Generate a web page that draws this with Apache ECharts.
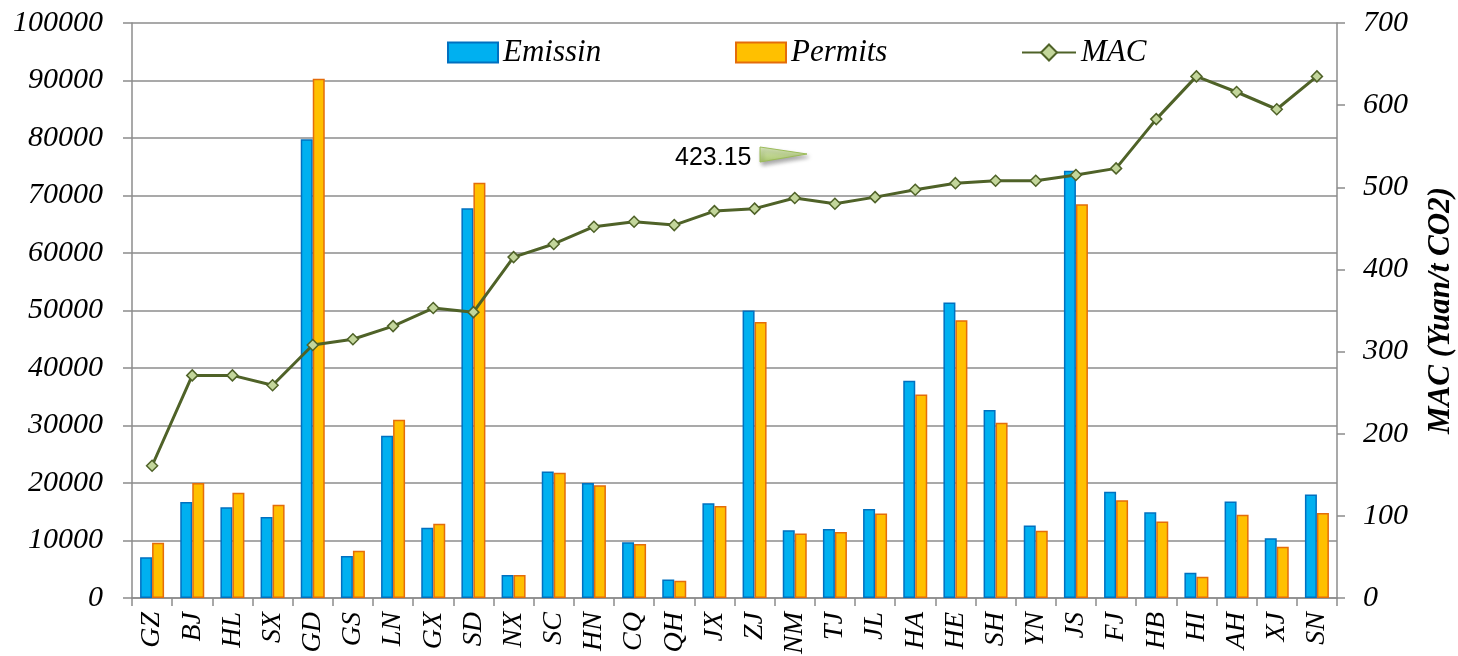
<!DOCTYPE html>
<html>
<head>
<meta charset="utf-8">
<script src="https://cdn.jsdelivr.net/npm/echarts@6/dist/echarts.min.js"></script>
<style>
  html, body { margin: 0; padding: 0; background: #fff; }
  #chart { width: 1458px; height: 656px; }
</style>
</head>
<body>
<div id="chart"></div>
<script>
// provinces
const provinces = ['GZ', 'BJ', 'HL', 'SX', 'GD', 'GS', 'LN', 'GX', 'SD', 'NX', 'SC', 'HN', 'CQ', 'QH', 'JX',
  'ZJ', 'NM', 'TJ', 'JL', 'HA', 'HE', 'SH', 'YN', 'JS', 'FJ', 'HB', 'HI', 'AH', 'XJ', 'SN']

const emission = [7100, 16700, 15800, 14100, 79800, 7300, 28200, 12200, 67800, 4000, 22000, 20000, 9700, 3200, 16500,
  50000, 11800, 12000, 15500, 37800, 51400, 32700, 12600, 74300, 18500, 14900, 4400, 16800, 10400, 18000]

const permits = [9600, 20000, 18300, 16200, 90300, 8200, 31000, 12900, 72200, 4000, 21800, 19600, 9400, 3000, 16000,
  48000, 11200, 11500, 14700, 35400, 48300, 30500, 11700, 68500, 17000, 13300, 3700, 14500, 8900, 14800]

const mac = [161, 271, 271, 259, 308, 315, 331, 353, 348, 415, 431, 452, 458, 454, 471,
  474, 487, 480, 488, 497, 505, 508, 508, 515, 523, 583, 635, 616, 595, 635]

const calloutText = '423.15'

const serif = '"Liberation Serif", "DejaVu Serif", serif'
const gridGray = '#8c8c8c'

const chart = echarts.init(document.getElementById('chart'))

const legendText = { fontFamily: serif, fontStyle: 'italic', fontSize: 31, color: '#000' }
const legendBase = { top: 32, itemWidth: 50, itemHeight: 20, itemGap: 7, textStyle: legendText }

chart.setOption({
  animation: false,
  grid: { left: 132, right: 121, top: 23, bottom: 58, outerBoundsMode: 'none' },
  legend: [
    { ...legendBase, data: [{ name: 'Emissin', icon: 'rect' }], left: 442 },
    { ...legendBase, data: [{ name: 'Permits', icon: 'rect' }], left: 730 },
    { ...legendBase, data: ['MAC'], left: 1016, itemWidth: 54 }
  ],
  xAxis: {
    type: 'category',
    data: provinces,
    axisLine: { lineStyle: { color: gridGray, width: 1.5 } },
    axisTick: { show: true, length: 8, lineStyle: { color: gridGray, width: 1.5 } },
    axisLabel: {
      rotate: 90, fontFamily: serif, fontStyle: 'italic', fontSize: 28, color: '#000', margin: 14
    }
  },
  yAxis: [
    {
      type: 'value', min: 0, max: 100000, interval: 10000,
      axisLine: { show: true, lineStyle: { color: gridGray, width: 1.5 } },
      axisTick: { show: true, length: 9, lineStyle: { color: gridGray, width: 1.5 } },
      splitLine: { lineStyle: { color: gridGray, width: 1.5 } },
      axisLabel: {
        fontFamily: serif, fontStyle: 'italic', fontSize: 30, color: '#000', margin: 29,
        formatter: v => String(v)
      }
    },
    {
      type: 'value', min: 0, max: 700, interval: 100, position: 'right',
      name: 'MAC (Yuan/t CO2)', nameLocation: 'middle', nameRotate: 90, nameGap: 88,
      nameTextStyle: { fontFamily: serif, fontStyle: 'italic', fontWeight: 'bold', fontSize: 31, color: '#000' },
      axisLine: { show: true, lineStyle: { color: gridGray, width: 1.5 } },
      axisTick: { show: true, length: 8, lineStyle: { color: gridGray, width: 1.5 } },
      splitLine: { show: false },
      axisLabel: { fontFamily: serif, fontStyle: 'italic', fontSize: 30, color: '#000', margin: 26 }
    }
  ],
  series: [
    {
      name: 'Emissin', type: 'bar', data: emission, barWidth: 12, barGap: '0%',
      itemStyle: { color: '#00B0F0', borderColor: '#0070C0', borderWidth: 1.5 }
    },
    {
      name: 'Permits', type: 'bar', data: permits, barWidth: 12,
      itemStyle: { color: '#FFC000', borderColor: '#E46C0A', borderWidth: 1.5 }
    },
    {
      name: 'MAC', type: 'line', yAxisIndex: 1, data: mac,
      symbol: 'diamond', symbolSize: 11,
      lineStyle: { color: '#4F6228', width: 3 },
      itemStyle: { color: '#C3D69B', borderColor: '#4F6228', borderWidth: 1.5 }
    }
  ],
  graphic: [
    {
      type: 'text', left: 675, top: 146,
      style: { text: calloutText, font: '25px "Liberation Sans", Arial, sans-serif', fill: '#000' }
    },
    {
      type: 'polygon',
      shape: { points: [[760, 147], [807, 154], [760, 162]] },
      style: {
        fill: new echarts.graphic.LinearGradient(0, 0, 0, 1, [
          { offset: 0, color: '#DDEBC3' }, { offset: 1, color: '#A9C66A' }
        ]),
        stroke: '#9BBB59', lineWidth: 1,
        shadowBlur: 4, shadowOffsetX: 2, shadowOffsetY: 3, shadowColor: 'rgba(0,0,0,0.35)'
      }
    }
  ]
})
</script>
</body>
</html>
